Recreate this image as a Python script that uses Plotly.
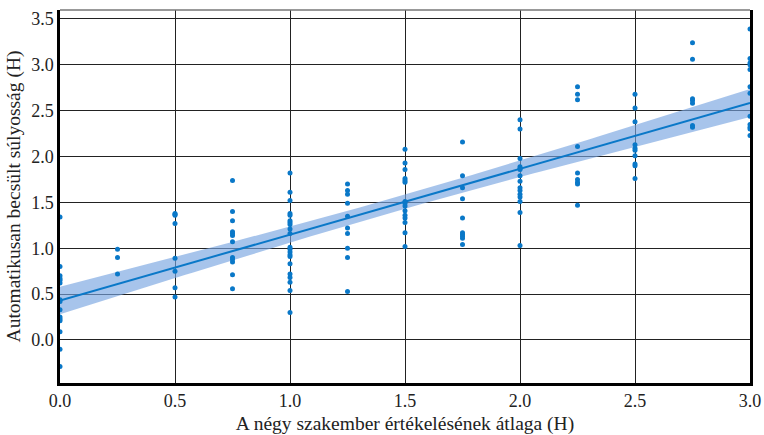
import numpy as np
import plotly.graph_objects as go

# Expert mean (x) grouped, automatic estimate (y)
x_levels = [0.0, 0.25, 0.5, 0.75, 1.0, 1.25, 1.5, 1.75, 2.0, 2.25, 2.5, 2.75, 3.0]
y_groups = [
    [1.34, 0.80, 0.70, 0.67, 0.65, 0.62, 0.44, 0.42, 0.33, 0.25, 0.23, 0.21, 0.09, -0.10, -0.29],
    [0.99, 0.90, 0.72],
    [1.38, 1.37, 1.36, 1.27, 0.89, 0.75, 0.57, 0.47],
    [1.74, 1.40, 1.30, 1.18, 1.16, 1.14, 1.07, 0.90, 0.88, 0.85, 0.71, 0.56],
    [1.82, 1.61, 1.52, 1.38, 1.36, 1.30, 1.28, 1.26, 1.21, 1.16, 1.01, 0.99, 0.96, 0.93, 0.91,
     0.83, 0.72, 0.68, 0.63, 0.54, 0.30],
    [1.70, 1.63, 1.59, 1.49, 1.35, 1.22, 1.16, 1.00, 0.90, 0.53],
    [2.08, 1.93, 1.86, 1.76, 1.74, 1.72, 1.51, 1.49, 1.46, 1.41, 1.36, 1.33, 1.28, 1.17, 1.02],
    [2.16, 1.79, 1.66, 1.54, 1.33, 1.17, 1.15, 1.13, 1.11, 1.04],
    [2.40, 2.30, 1.98, 1.89, 1.87, 1.86, 1.79, 1.73, 1.66, 1.63, 1.59, 1.56, 1.51, 1.39, 1.03],
    [2.76, 2.68, 2.62, 2.11, 1.82, 1.75, 1.72, 1.70, 1.47],
    [2.68, 2.53, 2.38, 2.13, 2.09, 2.07, 2.01, 1.92, 1.90, 1.76],
    [3.24, 3.06, 2.63, 2.61, 2.58, 2.34, 2.32],
    [3.39, 3.07, 3.02, 3.00, 2.95, 2.76, 2.69, 2.44, 2.35, 2.32, 2.30, 2.23],
]
x_ticks = [0.0, 0.5, 1.0, 1.5, 2.0, 2.5, 3.0]
y_ticks = [0.0, 0.5, 1.0, 1.5, 2.0, 2.5, 3.0, 3.5]

xs = np.concatenate([[xv] * len(g) for xv, g in zip(x_levels, y_groups)])
ys = np.concatenate(y_groups)

# OLS fit with confidence band
n = len(xs)
b1, b0 = np.polyfit(xs, ys, 1)
resid = ys - (b0 + b1 * xs)
s = np.sqrt(np.sum(resid ** 2) / (n - 2))
xm = xs.mean()
sxx = np.sum((xs - xm) ** 2)
xf = np.linspace(0, 3, 100)
yf = b0 + b1 * xf
se = s * np.sqrt(1 / n + (xf - xm) ** 2 / sxx)
tq = 2.5
lo, hi = yf - tq * se, yf + tq * se

blue = "#0a78c8"
band = "rgba(120,165,225,0.65)"

fig = go.Figure()
fig.add_trace(go.Scatter(x=np.concatenate([xf, xf[::-1]]), y=np.concatenate([hi, lo[::-1]]),
                         fill="toself", fillcolor=band, line=dict(width=0), mode="lines",
                         hoverinfo="skip", showlegend=False))
fig.add_trace(go.Scatter(x=xf, y=yf, mode="lines", line=dict(color=blue, width=2), showlegend=False))
fig.add_trace(go.Scatter(x=xs, y=ys, mode="markers", marker=dict(color=blue, size=5),
                         showlegend=False, cliponaxis=False))

serif = "Liberation Serif, Times New Roman, Times, serif"
tick_font = dict(family=serif, size=18, color="#222")
title_font = dict(family=serif, size=19.5, color="#222")
fig.update_layout(
    width=764, height=435, margin=dict(l=60, r=14, t=10, b=52, autoexpand=False),
    paper_bgcolor="white", plot_bgcolor="white", font=tick_font,
    xaxis=dict(range=[0, 3], tickvals=x_ticks, ticktext=[f"{v:.1f}" for v in x_ticks],
               tickfont=tick_font, automargin=False,
               showgrid=True, gridcolor="#222", gridwidth=1, zeroline=False,
               showline=True, linecolor="black", linewidth=2.5, ticks="",
               title=dict(text="A négy szakember értékelésének átlaga (H)", standoff=8,
                          font=title_font)),
    yaxis=dict(range=[-0.469, 3.598], tickvals=y_ticks, ticktext=[f"{v:.1f}" for v in y_ticks],
               tickfont=tick_font, automargin=False,
               showgrid=True, gridcolor="#222", gridwidth=1, zeroline=False,
               showline=True, linecolor="black", linewidth=2.5, mirror=True, ticks="",
               title=dict(text="Automatikusan becsült súlyosság (H)", standoff=6,
                          font=title_font)),
    shapes=[dict(type="line", xref="paper", yref="paper", x0=0, x1=1, y0=1, y1=1,
                 line=dict(color="#777", width=1.5))],
)
fig.write_html("out.html")
